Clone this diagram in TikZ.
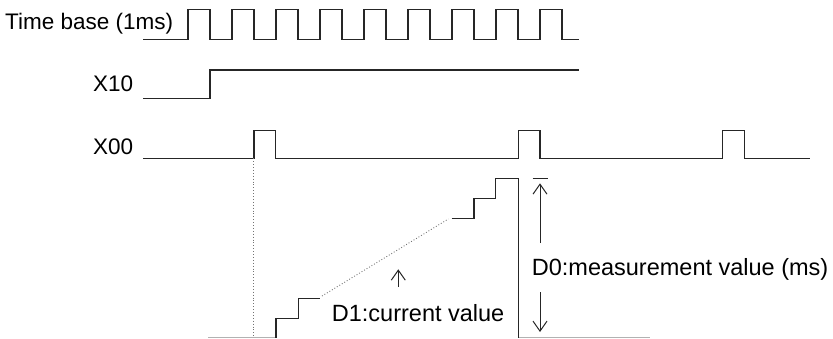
\documentclass[tikz,border=0pt]{standalone}
\usepackage{fontspec}
\setmainfont{Liberation Sans}
\usetikzlibrary{arrows.meta}
\begin{document}
\begin{tikzpicture}[x=1pt,y=-1pt,
  sig/.style={line width=1.1pt, draw=black!85, line join=miter},
  baseln/.style={line width=1.1pt, draw=black!30},
  guide/.style={line width=0.9pt, draw=black!55, dotted},
  lbl/.style={inner sep=0pt, font=\fontsize{22.5}{26}\selectfont},
  lblb/.style={inner sep=0pt, font=\fontsize{23.5}{27}\selectfont},
  arr/.style={line width=1pt, draw=black!85, -{Straight Barb[length=10pt,width=14pt,line width=1pt]}}]
\useasboundingbox (0,0) rectangle (833,338);

% labels
\node[lbl, anchor=base east] (tb) at (173.3,29.3) {Time base (1ms)};
\node[lbl, anchor=base east] (x10) at (133.3,91.7) {X10};
\node[lbl, anchor=base east] (x00) at (133.3,154) {X00};
\node[lblb, anchor=base west] (d1) at (331.7,321.7) {D1:current value};
\node[lblb, anchor=base west] (d0) at (531.7,275) {D0:measurement value (ms)};

% time base
\draw[sig] (143,39.3) -- (188,39.3)
  foreach \k in {0,...,7} { -- ++(0,-29.8) -- ++(22,0) -- ++(0,29.8) -- ++(22,0) }
  -- ++(0,-29.8) -- ++(22,0) -- ++(0,29.8) -- ++(17,0);

% X10
\draw[sig] (143,98.7) -- (210,98.7) -- (210,70) -- (579,70);

% X00
\draw[sig] (143,158.3) -- (254,158.3) -- (254,130.7) -- (275.7,130.7) -- (275.7,158.3)
  -- (518.3,158.3) -- (518.3,130.7) -- (540,130.7) -- (540,158.3)
  -- (722.3,158.3) -- (722.3,130.7) -- (744.3,130.7) -- (744.3,158.3) -- (810,158.3);

% guide from first X00 pulse
\draw[guide] (253,158.3) -- (253,337);

% bottom base lines
\draw[baseln] (208.3,337.4) -- (276,337.4);
\draw[baseln] (518.3,337.4) -- (650,337.4);

% staircase
\draw[sig] (276,337.5) -- (276,318.3) -- (298.3,318.3) -- (298.3,298.3) -- (320,298.3);
\draw[guide] (322,296) -- (448.3,219);
\draw[sig] (451.7,218.3) -- (474,218.3) -- (474,198.3) -- (495.7,198.3) -- (495.7,178.3)
  -- (518.3,178.3) -- (518.3,337.5);

% D0 dimension
\coordinate (d0top) at (540,178.3);
\coordinate (d0a) at (540,243);
\coordinate (d0b) at (540,292);
\coordinate (d0bot) at (540,332);
\draw[sig] (532.7,178.3) -- (548.3,178.3);
\draw[arr] (d0a) -- ([yshift=-5pt]d0top);
\draw[arr] (d0b) -- (d0bot);

% D1 arrow
\coordinate (d1a) at (398.3,287);
\coordinate (d1b) at (398.3,269.3);
\draw[arr] (d1a) -- (d1b);
\end{tikzpicture}
\end{document}
